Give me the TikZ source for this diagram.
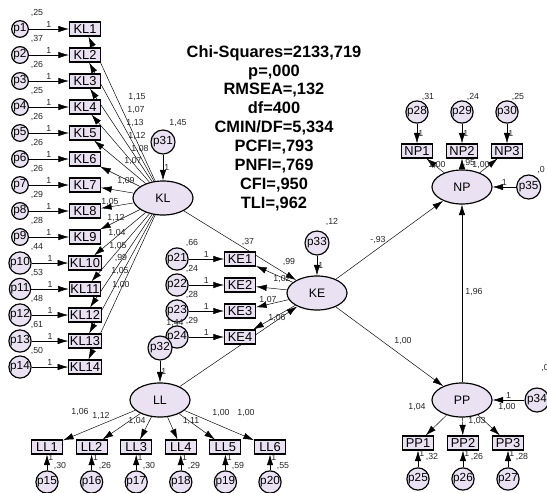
\documentclass[tikz,border=0pt]{standalone}
\usepackage{fontspec}
\setmainfont{Liberation Sans}
\usetikzlibrary{positioning,shapes.geometric,arrows.meta,backgrounds}
\definecolor{lavfill}{RGB}{234,226,243}

\begin{document}
\begin{tikzpicture}[x=0.03cm,y=-0.03cm,->,>={Latex[length=9pt,width=5.5pt]},line width=1pt,auto,node distance=0.78cm,
  obs node/.style={rectangle,draw,line width=1pt,fill=lavfill,minimum width=0.93cm,minimum height=0.42cm,inner sep=1pt,font=\fontsize{11}{11}\selectfont},
  lat node/.style={ellipse,draw,line width=1pt,fill=lavfill,minimum width=1.8cm,minimum height=1.02cm,inner sep=0pt,font=\fontsize{10.5}{10.5}\selectfont},
  err node/.style={circle,draw,line width=1pt,fill=lavfill,minimum size=0.5cm,inner sep=0pt,font=\fontsize{10}{10}\selectfont},
  dist node/.style={err node,minimum size=0.72cm},
  est/.style={font=\fontsize{7.5}{7.5}\selectfont,inner sep=1pt,text=black!85}]
\useasboundingbox (0,0) rectangle (547,492);

% fit indices
\node[font=\fontsize{14}{16.1}\selectfont\bfseries,align=center,inner sep=0pt] (fit) at (274,128)
  {Chi-Squares=2133,719\\p=,000\\RMSEA=,132\\df=400\\CMIN/DF=5,334\\PCFI=,793\\PNFI=,769\\CFI=,950\\TLI=,962};

% KL block
\node[obs node] (KL1) at (85,29) {KL1};
\node[obs node] (KL2) [below of=KL1] {KL2};
\node[obs node] (KL3) [below of=KL2] {KL3};
\node[obs node] (KL4) [below of=KL3] {KL4};
\node[obs node] (KL5) [below of=KL4] {KL5};
\node[obs node] (KL6) [below of=KL5] {KL6};
\node[obs node] (KL7) [below of=KL6] {KL7};
\node[obs node] (KL8) [below of=KL7] {KL8};
\node[obs node] (KL9) [below of=KL8] {KL9};
\node[obs node] (KL10) [below of=KL9] {KL10};
\node[obs node] (KL11) [below of=KL10] {KL11};
\node[obs node] (KL12) [below of=KL11] {KL12};
\node[obs node] (KL13) [below of=KL12] {KL13};
\node[obs node] (KL14) [below of=KL13] {KL14};
\node[err node] (p1) [left of=KL1,node distance=1.95cm] {p1};
\node[err node] (p2) [left of=KL2,node distance=1.95cm] {p2};
\node[err node] (p3) [left of=KL3,node distance=1.95cm] {p3};
\node[err node] (p4) [left of=KL4,node distance=1.95cm] {p4};
\node[err node] (p5) [left of=KL5,node distance=1.95cm] {p5};
\node[err node] (p6) [left of=KL6,node distance=1.95cm] {p6};
\node[err node] (p7) [left of=KL7,node distance=1.95cm] {p7};
\node[err node] (p8) [left of=KL8,node distance=1.95cm] {p8};
\node[err node] (p9) [left of=KL9,node distance=1.95cm] {p9};
\node[err node] (p10) [left of=KL10,node distance=1.95cm] {p10};
\node[err node] (p11) [left of=KL11,node distance=1.95cm] {p11};
\node[err node] (p12) [left of=KL12,node distance=1.95cm] {p12};
\node[err node] (p13) [left of=KL13,node distance=1.95cm] {p13};
\node[err node] (p14) [left of=KL14,node distance=1.95cm] {p14};
\node[est] (v1) at (37,13) {,25};
\node[est] (v2) at (37,39) {,37};
\node[est] (v3) at (37,65) {,26};
\node[est] (v4) at (37,91) {,25};
\node[est] (v5) at (37,117) {,26};
\node[est] (v6) at (37,143) {,26};
\node[est] (v7) at (37,169) {,26};
\node[est] (v8) at (37,195) {,29};
\node[est] (v9) at (37,221) {,28};
\node[est] (v10) at (37,247) {,44};
\node[est] (v11) at (37,273) {,53};
\node[est] (v12) at (37,299) {,48};
\node[est] (v13) at (37,325) {,61};
\node[est] (v14) at (37,351) {,50};
\node[lat node] (KL) at (163,198) {KL};
\node[dist node] (p31) [above of=KL,node distance=1.68cm] {p31};
\node[est] (v31) at (178,123) {1,45};
\node[est] (w1) at (137,97) {1,15};
\node[est] (w2) at (136,110) {1,07};
\node[est] (w3) at (135,123) {1,13};
\node[est] (w4) at (137,136) {1,12};
\node[est] (w5) at (140,149) {1,08};
\node[est] (w6) at (133,161) {1,07};
\node[est] (w7) at (126,181) {1,09};
\node[est] (w8) at (110,202) {1,05};
\node[est] (w9) at (116,218) {1,12};
\node[est] (w10) at (117,233) {1,04};
\node[est] (w11) at (118,246) {1,05};
\node[est] (w12) at (121,258) {,99};
\node[est] (w13) at (120,271) {1,05};
\node[est] (w14) at (121,285) {1,00};

% KE block
\node[obs node] (KE1) at (240,259) {KE1};
\node[obs node] (KE2) [below of=KE1] {KE2};
\node[obs node] (KE3) [below of=KE2] {KE3};
\node[obs node] (KE4) [below of=KE3] {KE4};
\node[err node] (p21) [left of=KE1,node distance=1.89cm] {p21};
\node[err node] (p22) [left of=KE2,node distance=1.89cm] {p22};
\node[err node] (p23) [left of=KE3,node distance=1.89cm] {p23};
\node[err node] (p24) [left of=KE4,node distance=1.89cm] {p24};
\node[est] (v21) at (192,243) {,66};
\node[est] (v22) at (192,269) {,24};
\node[est] (v23) at (192,295) {,28};
\node[est] (v24) at (192,321) {,29};
\node[lat node] (KE) at (317,293) {KE};
\node[dist node] (p33) [above of=KE,node distance=1.5cm] {p33};
\node[est] (v33) at (332,222) {,12};
\node[est] (w21) at (289,262) {,99};
\node[est] (w22) at (282,279) {1,02};
\node[est] (w23) at (268,300) {1,07};
\node[est] (w24) at (277,318) {1,06};
\node[est] (b1) at (248,242) {,37};

% LL block
\node[lat node] (LL) at (160,400) {LL};
\node[dist node] (p32) [above of=LL,node distance=1.56cm] {p32};
\node[est] (v32) at (175,323) {1,44};
\node[obs node] (LL1) at (47,447) {LL1};
\node[obs node] (LL2) [right of=LL1,node distance=1.338cm] {LL2};
\node[obs node] (LL3) [right of=LL2,node distance=1.338cm] {LL3};
\node[obs node] (LL4) [right of=LL3,node distance=1.338cm] {LL4};
\node[obs node] (LL5) [right of=LL4,node distance=1.338cm] {LL5};
\node[obs node] (LL6) [right of=LL5,node distance=1.338cm] {LL6};
\node[err node] (p15) [below of=LL1,node distance=1.05cm] {p15};
\node[err node] (p16) [below of=LL2,node distance=1.05cm] {p16};
\node[err node] (p17) [below of=LL3,node distance=1.05cm] {p17};
\node[err node] (p18) [below of=LL4,node distance=1.05cm] {p18};
\node[err node] (p19) [below of=LL5,node distance=1.05cm] {p19};
\node[err node] (p20) [below of=LL6,node distance=1.05cm] {p20};
\node[est] (v15) at (60,466) {,30};
\node[est] (v16) at (105,466) {,26};
\node[est] (v17) at (149,466) {,30};
\node[est] (v18) at (194,466) {,29};
\node[est] (v19) at (238,466) {,59};
\node[est] (v20) at (283,466) {,55};
\node[est] (w15) at (80,412) {1,06};
\node[est] (w16) at (101,416) {1,12};
\node[est] (w17) at (137,421) {1,04};
\node[est] (w18) at (191,421) {1,11};
\node[est] (w19) at (221,413) {1,00};
\node[est] (w20) at (246,413) {1,00};

% NP block
\node[lat node] (NP) at (462,187) {NP};
\node[dist node] (p35) [right of=NP,node distance=2cm] {p35};
\node[est] (v35) at (541,170) {,0};
\node[obs node] (NP1) at (417,151) {NP1};
\node[obs node] (NP2) [right of=NP1,node distance=1.35cm] {NP2};
\node[obs node] (NP3) [right of=NP2,node distance=1.35cm] {NP3};
\node[err node] (p28) [above of=NP1,node distance=1.17cm] {p28};
\node[err node] (p29) [above of=NP2,node distance=1.17cm] {p29};
\node[err node] (p30) [above of=NP3,node distance=1.17cm] {p30};
\node[est] (v28) at (428,97) {,31};
\node[est] (v29) at (473,97) {,24};
\node[est] (v30) at (518,97) {,25};
\node[est] (w28) at (437,165) {1,00};
\node[est] (w29) at (469,163) {,95};
\node[est] (w30) at (481,165) {1,00};

% PP block
\node[lat node] (PP) at (462,400) {PP};
\node[dist node] (p34) [right of=PP,node distance=2.25cm] {p34};
\node[est] (v34) at (545,368) {,0};
\node[obs node] (PP1) at (418,443) {PP1};
\node[obs node] (PP2) [right of=PP1,node distance=1.35cm] {PP2};
\node[obs node] (PP3) [right of=PP2,node distance=1.35cm] {PP3};
\node[err node] (p25) [below of=PP1,node distance=1.08cm] {p25};
\node[err node] (p26) [below of=PP2,node distance=1.08cm] {p26};
\node[err node] (p27) [below of=PP3,node distance=1.08cm] {p27};
\node[est] (v25) at (432,457) {,32};
\node[est] (v26) at (477,457) {,26};
\node[est] (v27) at (522,457) {,28};
\node[est] (w25) at (417,407) {1,04};
\node[est] (w26) at (477,421) {1,03};
\node[est] (w27) at (507,407) {1,00};

% structural paths
\node[est] (b2) at (378,240) {-,93};
\node[est] (b3) at (403,341) {1,00};
\node[est] (b4) at (474,292) {1,96};

\begin{scope}[on background layer,every node/.style={est}]
\path (p1) edge node {1} (KL1)
      (p2) edge node {1} (KL2)
      (p3) edge node {1} (KL3)
      (p4) edge node {1} (KL4)
      (p5) edge node {1} (KL5)
      (p6) edge node {1} (KL6)
      (p7) edge node {1} (KL7)
      (p8) edge node {1} (KL8)
      (p9) edge node {1} (KL9)
      (p10) edge node {1} (KL10)
      (p11) edge node {1} (KL11)
      (p12) edge node {1} (KL12)
      (p13) edge node {1} (KL13)
      (p14) edge node {1} (KL14)
      (p31) edge node {1} (KL)
      (KL) edge (KL1) (KL) edge (KL2) (KL) edge (KL3) (KL) edge (KL4)
      (KL) edge (KL5) (KL) edge (KL6) (KL) edge (KL7) (KL) edge (KL8)
      (KL) edge (KL9) (KL) edge (KL10) (KL) edge (KL11) (KL) edge (KL12)
      (KL) edge (KL13) (KL) edge (KL14);
\path (p21) edge node {1} (KE1)
      (p22) edge node {1} (KE2)
      (p23) edge node {1} (KE3)
      (p24) edge node {1} (KE4)
      (p33) edge node {1} (KE)
      (KE) edge (KE1) (KE) edge (KE2) (KE) edge (KE3) (KE) edge (KE4);
\path (p32) edge node {1} (LL)
      (LL) edge (LL1) (LL) edge (LL2) (LL) edge (LL3)
      (LL) edge (LL4) (LL) edge (LL5) (LL) edge (LL6)
      (p15) edge node[swap,pos=0.8] {1} (LL1)
      (p16) edge node[swap,pos=0.8] {1} (LL2)
      (p17) edge node[swap,pos=0.8] {1} (LL3)
      (p18) edge node[swap,pos=0.8] {1} (LL4)
      (p19) edge node[swap,pos=0.8] {1} (LL5)
      (p20) edge node[swap,pos=0.8] {1} (LL6);
\path (p28) edge node {1} (NP1)
      (p29) edge node {1} (NP2)
      (p30) edge node {1} (NP3)
      (p35) edge node[swap] {1} (NP)
      (NP) edge (NP1) (NP) edge (NP2) (NP) edge (NP3);
\path (p34) edge node[swap] {1} (PP)
      (PP) edge (PP1) (PP) edge (PP2) (PP) edge (PP3)
      (p25) edge node[swap,pos=0.8] {1} (PP1)
      (p26) edge node[swap,pos=0.8] {1} (PP2)
      (p27) edge node[swap,pos=0.8] {1} (PP3);
\path (KL) edge (KE)
      (LL) edge (KE)
      (KE) edge (NP)
      (KE) edge (PP)
      (PP) edge (NP);
\end{scope}
\end{tikzpicture}
\end{document}
